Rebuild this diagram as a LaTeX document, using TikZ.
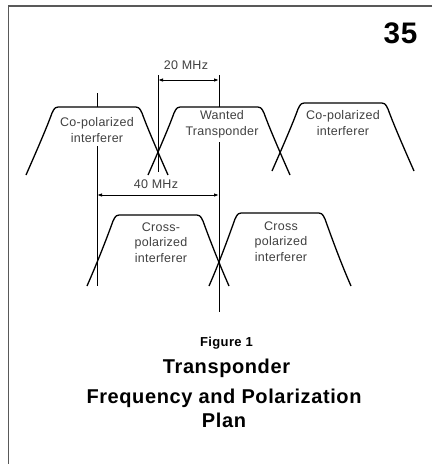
\documentclass[tikz,border=0pt]{standalone}
\usepackage{fontspec}
\setmainfont{Liberation Sans}
\newfontfamily\labelfont[LetterSpace=2]{Liberation Sans}
\newfontfamily\headfont[LetterSpace=3]{Liberation Sans}
\usetikzlibrary{arrows.meta}
\tikzset{
  band/.style={draw,line width=1.3pt,line join=round},
  refline/.style={draw,line width=1pt},
  dimline/.style={draw,line width=1pt,{Latex[length=5pt,width=3.5pt]}-{Latex[length=5pt,width=3.5pt]}},
  lbl/.style={font=\labelfont\fontsize{12.5}{15.5}\selectfont,text=black!75,align=center,inner sep=0pt,anchor=base},
  head/.style={font=\headfont\bfseries,align=center,inner sep=0pt,anchor=base},
}

\begin{document}
\begin{tikzpicture}[x=1pt,y=-1pt]
\useasboundingbox (0,0) rectangle (432,464);
% frame
\path[draw,black!65,line width=1.6pt] (432,6)--(8.5,6)--(8.5,464);
\begin{scope}
% co-polarized bands
\path[band]%
(26,175) .. controls (37,150) and (47,127) .. (52,113) .. controls (55,107) .. (62,107)%
--(132,107) .. controls (139,107) .. (142,113) .. controls (147,127) and (157,150) .. (168,175);
\path[band]%
(148,175) .. controls (159,150) and (169,127) .. (174,113) .. controls (177,107) .. (184,107)%
--(254,107) .. controls (261,107) .. (264,113) .. controls (269,127) and (279,150) .. (290,175);
\path[band]%
(272,171) .. controls (283,146) and (293,123) .. (298,109) .. controls (301,103) .. (308,103)%
--(378,103) .. controls (385,103) .. (388,109) .. controls (393,123) and (403,146) .. (414,171);
% cross-polarized bands
\path[band]%
(87,286) .. controls (98,261) and (108,235) .. (113,221) .. controls (116,215) .. (123,215)%
--(193,215) .. controls (200,215) .. (203,221) .. controls (208,235) and (218,261) .. (229,286);
\path[band]%
(209,286) .. controls (220,261) and (230,233) .. (235,219) .. controls (238,213) .. (245,213)%
--(315,213) .. controls (322,213) .. (325,219) .. controls (330,233) and (340,261) .. (351,286);
\end{scope}
% reference lines
\coordinate (f1a) at (97,93);
\coordinate (f1b) at (97,107);
\coordinate (f1c) at (97,146);
\coordinate (f1d) at (97,286);
\coordinate (x1a) at (158,75);
\coordinate (x1b) at (158,172);
\coordinate (w1a) at (219,75);
\coordinate (w1b) at (219,107);
\coordinate (w1c) at (219,142);
\coordinate (w1d) at (219,312);
\path[refline] (f1a)--(f1b);
\path[refline] (f1c)--(f1d);
\path[refline] (x1a)--(x1b);
\path[refline] (w1a)--(w1b);
\path[refline] (w1c)--(w1d);
% spacing
\coordinate (d20a) at (158,80);
\coordinate (d20b) at (219,80);
\coordinate (d40a) at (97,195);
\coordinate (d40b) at (219,195);
\path[dimline] (d20a)--(d20b);
\path[dimline] (d40a)--(d40b);
\node[lbl] (mhz20) at (186,69)  {20 MHz};
\node[lbl] (mhz40) at (156,188) {40 MHz};
\node[lbl] (copol1) at (97,142)  {Co-polarized\\interferer};
\node[lbl] (wanted) at (222,135) {Wanted\\Transponder};
\node[lbl] (copol2) at (343,135) {Co-polarized\\interferer};
\node[lbl] (xpol1) at (161,262)  {Cross-\\polarized\\interferer};
\node[lbl] (xpol2) at (281,261)  {Cross\\polarized\\interferer};
% caption
\node[head,font=\headfont\bfseries\fontsize{29.7}{30}\selectfont] (page) at (400.5,43) {35};
\node[head,font=\headfont\bfseries\fontsize{13}{15}\selectfont] (fig) at (226.5,346) {Figure 1};
\node[head,font=\headfont\bfseries\fontsize{20}{24}\selectfont] (title) at (226.5,373) {Transponder};
\node[head,font=\headfont\bfseries\fontsize{20}{24}\selectfont] (plan) at (224,427) {Frequency and Polarization\\Plan};
\end{tikzpicture}
\end{document}
